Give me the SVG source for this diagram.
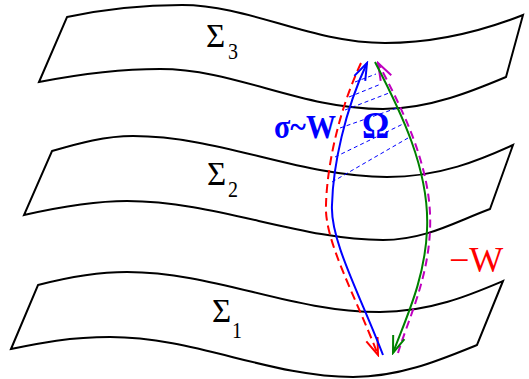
<svg xmlns="http://www.w3.org/2000/svg" width="529" height="379" viewBox="0 0 529 379">
<style>
.sheet{fill:#fff;stroke:#000;stroke-width:2;stroke-linejoin:miter}
.sig{font-family:"Liberation Serif","Times New Roman",serif;font-size:33px;fill:#000}
.sub{font-family:"Liberation Serif","Times New Roman",serif;font-size:20px;fill:#000}
.lbl{font-family:"Liberation Serif","Times New Roman",serif;font-weight:bold;font-size:30px;fill:#0000ff}
.om{font-size:34px}
.mw{font-family:"Liberation Serif","Times New Roman",serif;font-size:36px;fill:#ff0000}
.c{fill:none;stroke-width:2}
.blue{stroke:#0000ff}
.red{stroke:#ff0000;stroke-dasharray:9,5}
.green{stroke:#008000}
.mag{stroke:#bf00bf;stroke-dasharray:8,5}
.hatch{fill:none;stroke:#0000ff;stroke-width:1;stroke-dasharray:4,3}
</style>
<defs>
<marker id="ab" markerUnits="userSpaceOnUse" markerWidth="20" markerHeight="16" viewBox="-18 -8 20 16" refX="0" refY="0" orient="auto"><path d="M-17,-6 L0,0 L-17,6" fill="none" stroke="#0000ff" stroke-width="2"/></marker>
<marker id="ar" markerUnits="userSpaceOnUse" markerWidth="20" markerHeight="16" viewBox="-18 -8 20 16" refX="0" refY="0" orient="auto"><path d="M-17,-6 L0,0 L-17,6" fill="none" stroke="#ff0000" stroke-width="2"/></marker>
<marker id="ag" markerUnits="userSpaceOnUse" markerWidth="20" markerHeight="16" viewBox="-18 -8 20 16" refX="0" refY="0" orient="auto"><path d="M-17,-6 L0,0 L-17,6" fill="none" stroke="#008000" stroke-width="2"/></marker>
<marker id="am" markerUnits="userSpaceOnUse" markerWidth="20" markerHeight="16" viewBox="-18 -8 20 16" refX="0" refY="0" orient="auto"><path d="M-17,-6 L0,0 L-17,6" fill="none" stroke="#bf00bf" stroke-width="2"/></marker>
</defs>
<rect width="529" height="379" fill="#fff"/>
<g id="sigma3">
<path class="sheet" d="M67,17 C100,10 140,5 182,5 C250,5 310,43 385,43 C440,43 490,28 523,15 L506,77 C475,90 430,109 383,109 C300,109 235,69 160,69 C115,69 70,76 39,82 Z"/>
<text class="sig" x="206" y="47">Σ</text>
<text class="sub" transform="translate(228,59) scale(1,1.2)">3</text>
</g>
<g id="sigma2">
<path class="sheet" d="M52,151 C80,143 105,136 133,136 C220,136 300,177 387,177 C440,177 480,160 513,145 L490,209 C455,222 425,240 383,240 C300,240 215,201 127,201 C90,201 55,208 24,215 Z"/>
<text class="sig" x="207" y="185">Σ</text>
<text class="sub" transform="translate(228,197) scale(1,1.2)">2</text>
</g>
<g id="sigma1">
<path class="sheet" d="M38,285 C65,278 95,272 127,272 C215,272 290,312 380,312 C430,312 470,295 503,281 L477,345 C440,360 400,377 353,377 C270,377 195,337 110,337 C70,337 40,343 11,349 Z"/>
<text class="sig" x="212" y="322">Σ</text>
<text class="sub" transform="translate(232,338) scale(1,1.2)">1</text>
</g>
<g id="connectors">
<path class="hatch" d="M355,82 L376,74 M349,97 L381,84 M345,110 L389,93 M340,128 L397,108 M335,157 L403,124 M332,182 L408,138"/>
<path class="c red" d="M361,63 C339,110 327,165 326,205 C324,240 355,295 378,355" marker-end="url(#ar)"/>
<path class="c blue" d="M383,355 C360,295 330,240 332,205 C333,165 345,110 367,63" marker-end="url(#ab)"/>
<path class="c mag" d="M398,353 C408,320 428,280 430,230 C433,170 403,110 378,63" marker-end="url(#am)"/>
<path class="c green" d="M375,62 C400,110 430,170 427,230 C425,280 405,320 393,353" marker-end="url(#ag)"/>
</g>
<g id="labels">
<text class="lbl" transform="translate(274,138) scale(1,1.15)">σ~W</text>
<text class="lbl om" transform="translate(362,138) scale(1,1.1)">Ω</text>
<text class="mw" x="449" y="272">−W</text>
</g>
</svg>
